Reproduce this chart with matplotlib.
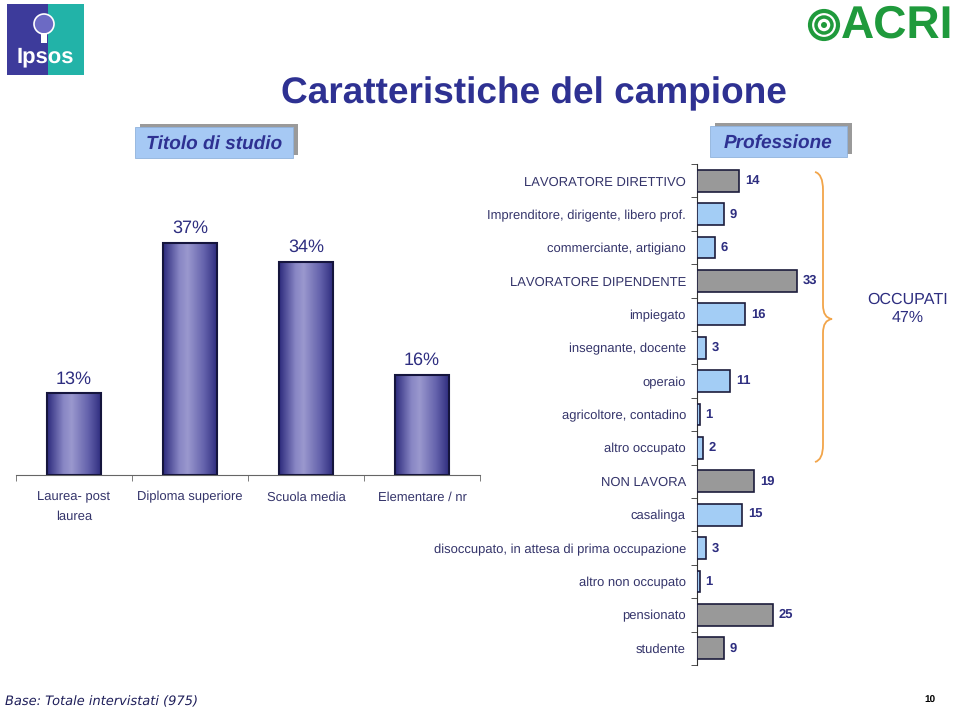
import numpy as np
import matplotlib
matplotlib.use('Agg')
import matplotlib.pyplot as plt
from matplotlib.colors import LinearSegmentedColormap
from matplotlib.patches import Rectangle, Circle, PathPatch
from matplotlib.path import Path

plt.rcParams['font.family'] = ['Liberation Sans', 'DejaVu Sans']
plt.rcParams['text.hinting'] = 'no_hinting'
plt.rcParams['text.hinting_factor'] = 1

# ---------------- data ----------------
edu_categories = ['Laurea- post\nlaurea', 'Diploma superiore', 'Scuola media', 'Elementare / nr']
edu_values = [13, 37, 34, 16]

job_categories = ['LAVORATORE DIRETTIVO', 'Imprenditore, dirigente, libero prof.',
                  'commerciante, artigiano', 'LAVORATORE DIPENDENTE', 'impiegato',
                  'insegnante, docente', 'operaio', 'agricoltore, contadino', 'altro occupato',
                  'NON LAVORA', 'casalinga', 'disoccupato, in attesa di prima occupazione',
                  'altro non occupato', 'pensionato', 'studente']
job_values = [14, 9, 6, 33, 16, 3, 11, 1, 2, 19, 15, 3, 1, 25, 9]
job_is_group = [True, False, False, True, False, False, False, False, False,
                True, False, False, False, True, True]

title_text = 'Caratteristiche del campione'
left_header = 'Titolo di studio'
right_header = 'Professione'
occupati_label = 'OCCUPATI\n47%'
base_note = 'Base: Totale intervistati (975)'
page_number = '10'

NAVY = '#2e2e80'
LABEL = '#34346a'

fig = plt.figure(figsize=(9.6, 7.11), dpi=100)
fig.patch.set_facecolor('white')

# overlay in pixel coordinates for slide decorations
ov = fig.add_axes([0, 0, 1, 1])
ov.set_xlim(0, 960)
ov.set_ylim(711, 0)
ov.axis('off')

ov.text(534, 94, title_text, ha='center', va='center', fontsize=26.5,
        fontweight='bold', color='#2e3192')

def header(x0, y0, x1, y1, text):
    w, h = x1 - x0, y1 - y0
    ov.add_patch(Rectangle((x0 + 5, y0 - 3), w, h, fc='#9a9a9a', ec='none'))
    ov.add_patch(Rectangle((x0, y0), w, h, fc='#a6c9f4', ec='#90b2dc', lw=0.6))
    ov.text((x0 + x1) / 2, (y0 + y1) / 2 + 1, text, ha='center', va='center',
            fontsize=13.4, fontweight='bold', fontstyle='italic', color='#2e3192')

header(135, 127, 293, 158, left_header)
header(710, 126, 847, 157, right_header)

# Ipsos logo
ov.add_patch(Rectangle((7, 4), 41, 71, fc='#3d3b9b', ec='none'))
ov.add_patch(Rectangle((48, 4), 36, 71, fc='#22b3a8', ec='none'))
ov.add_patch(Circle((44, 24), 10, fc='#6c6ac4', ec='white', lw=1.2))
ov.add_patch(Rectangle((41, 33), 6, 10, fc='white', ec='none'))
ov.text(45, 57, 'Ipsos', ha='center', va='center', fontsize=16,
        fontweight='bold', color='white')

# ACRI logo
GREEN = '#1f9a3c'
ov.add_patch(Circle((824, 25), 14, fc='none', ec=GREEN, lw=3))
ov.add_patch(Circle((824, 25), 8, fc='none', ec=GREEN, lw=2.5))
ov.add_patch(Circle((824, 25), 3, fc=GREEN, ec='none'))
ov.text(897, 26, 'ACRI', ha='center', va='center', fontsize=33,
        fontweight='bold', color=GREEN)

# brace
verts = [(815, 172), (823, 174), (823, 190), (823, 305), (823, 318), (832, 319),
         (823, 320), (823, 333), (823, 445), (823, 460), (815, 462)]
codes = [Path.MOVETO, Path.CURVE3, Path.CURVE3, Path.LINETO, Path.CURVE3, Path.CURVE3,
         Path.CURVE3, Path.CURVE3, Path.LINETO, Path.CURVE3, Path.CURVE3]
ov.add_patch(PathPatch(Path(verts, codes), fc='none', ec='#f2a54a', lw=1.3))
ov.text(908, 309, occupati_label, ha='center', va='center', fontsize=11.8,
        color=NAVY, linespacing=1.3)

ov.text(5, 702, base_note, ha='left', va='center', fontsize=9.3,
        fontstyle='italic', color='#1f1f5a', family='DejaVu Sans')
ov.text(930, 700, page_number, ha='center', va='center', fontsize=7,
        fontweight='bold', color='black')

# ---------------- left chart: titolo di studio ----------------
ax1 = fig.add_axes([16 / 960, (711 - 475) / 711, 464 / 960, 251 / 711])
ax1.set_facecolor('none')
x = np.arange(len(edu_categories))
bars = ax1.bar(x, edu_values, width=0.47, color='none', edgecolor='#15153d',
               linewidth=1.5, zorder=3)
cmap = LinearSegmentedColormap.from_list(
    'bargrad', [(0.0, '#2c2a7c'), (0.3, '#8886c4'), (0.45, '#9a98ce'),
                (0.75, '#6462ac'), (1.0, '#2c2a7c')])
grad = np.linspace(0, 1, 256).reshape(1, -1)
for b in bars:
    ax1.imshow(grad, cmap=cmap, aspect='auto', zorder=2,
               extent=[b.get_x(), b.get_x() + b.get_width(), 0, b.get_height()])
for xi, v in zip(x, edu_values):
    ax1.annotate(f'{v}%', (xi, v), xytext=(0, 10.5), textcoords='offset points',
                 ha='center', va='center', fontsize=13, color=NAVY,
                 annotation_clip=False)
ax1.set_xlim(-0.5, len(edu_categories) - 0.5)
ax1.set_ylim(0, 40)
for s in ['top', 'right', 'left']:
    ax1.spines[s].set_visible(False)
ax1.spines['bottom'].set_color('#666666')
ax1.set_yticks([])
ax1.set_xticks(x)
ax1.set_xticklabels(edu_categories)
for t in ax1.get_xticklabels():
    t.set_linespacing(1.8)
ax1.set_xticks(np.arange(-0.5, len(edu_categories), 1), minor=True)
ax1.tick_params(axis='x', which='major', length=0, pad=11.5, labelsize=9.6,
                labelcolor=LABEL)
ax1.tick_params(axis='x', which='minor', length=4, color='#666666', direction='out')

# ---------------- right chart: professione ----------------
ax2 = fig.add_axes([697 / 960, (711 - 665) / 711, 121 / 960, 501 / 711])
ax2.set_facecolor('none')
y = np.arange(len(job_categories))
colors = ['#999999' if g else '#a3cdf5' for g in job_is_group]
ax2.barh(y, job_values, height=0.65, color=colors, edgecolor='#1c1c3c',
         linewidth=1.2, zorder=3)
for yi, v in zip(y, job_values):
    ax2.annotate(str(v), (v, yi), xytext=(4, 0), textcoords='offset points',
                 ha='left', va='center', fontsize=9.2, fontweight='bold', color=NAVY,
                 annotation_clip=False)
ax2.set_xlim(0, 40)
ax2.set_ylim(len(job_categories) - 0.5, -0.5)
for s in ['top', 'right', 'bottom']:
    ax2.spines[s].set_visible(False)
ax2.spines['left'].set_color('#333333')
ax2.set_xticks([])
ax2.set_yticks(y)
ax2.set_yticklabels(job_categories)
ax2.set_yticks(np.arange(-0.5, len(job_categories), 1), minor=True)
ax2.tick_params(axis='y', which='major', length=0, pad=8, labelsize=9,
                labelcolor=LABEL)
ax2.tick_params(axis='y', which='minor', length=4, color='#333333', direction='out')

fig.savefig('out.png', dpi=100)
